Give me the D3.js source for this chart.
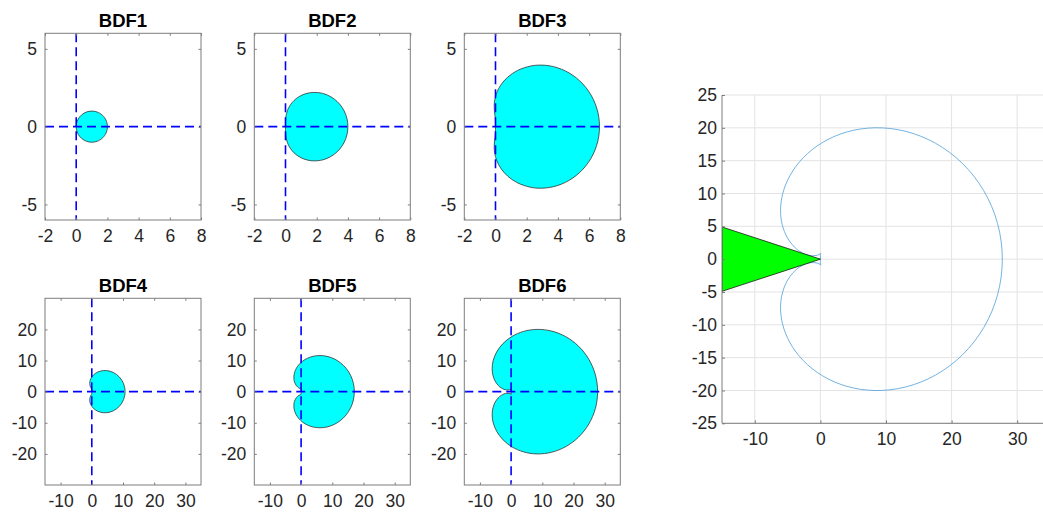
<!DOCTYPE html>
<html>
<head>
<meta charset="utf-8">
<script src="https://cdn.jsdelivr.net/npm/d3@7"></script>
<style>
  body { margin: 0; background: #fff; }
  svg { display: block; }
</style>
</head>
<body>
<svg id="chart" width="1043" height="515"></svg>
<script>
// ---------------- DATA ----------------
const panelTitles = ["BDF1", "BDF2", "BDF3", "BDF4", "BDF5", "BDF6"];

const topXTicks = [-2, 0, 2, 4, 6, 8];
const topYTicks = [-5, 0, 5];
const topXDomain = [-2, 8];
const topYDomain = [-6, 6];

const botXTicks = [-10, 0, 10, 20, 30];
const botYTicks = [-20, -10, 0, 10, 20];
const botXDomain = [-15, 35];
const botYDomain = [-30, 30];

const rightXTicks = [-10, 0, 10, 20, 30];
const rightYTicks = [-25, -20, -15, -10, -5, 0, 5, 10, 15, 20, 25];
const rightXDomain = [-15, 35];
const rightYDomain = [-25, 25];

// stability-region boundary points (upper half then lower half)
const bdf1Upper = [[2,0],[1.9962,0.0872],[1.9848,0.1737],[1.9659,0.2588],[1.9397,0.3420],[1.9063,0.4226],[1.8660,0.5],[1.8192,0.5736],[1.7660,0.6428],[1.7071,0.7071],[1.6428,0.7660],[1.5736,0.8192],[1.5,0.8660],[1.3420,0.9397],[1.1736,0.9848],[1,1],[0.8264,0.9848],[0.6580,0.9397],[0.5,0.8660],[0.3572,0.7660],[0.2340,0.6428],[0.1340,0.5],[0.0603,0.3420],[0.0152,0.1736],[0,0]];
const bdf1Lower = [[0.0152,-0.1736],[0.0603,-0.3420],[0.1340,-0.5],[0.2340,-0.6428],[0.3572,-0.7660],[0.5,-0.8660],[0.6580,-0.9397],[0.8264,-0.9848],[1,-1],[1.1736,-0.9848],[1.3420,-0.9397],[1.5,-0.8660],[1.5736,-0.8192],[1.6428,-0.7660],[1.7071,-0.7071],[1.7660,-0.6428],[1.8192,-0.5736],[1.8660,-0.5],[1.9063,-0.4226],[1.9397,-0.3420],[1.9659,-0.2588],[1.9848,-0.1737],[1.9962,-0.0872]];

const bdf2Upper = [[4,0],[3.9848,0.2611],[3.9395,0.5183],[3.8649,0.7676],[3.7624,1.0055],[3.6340,1.2283],[3.4821,1.4330],[3.3093,1.6170],[3.1189,1.7780],[2.9142,1.9142],[2.6988,2.0245],[2.4761,2.1082],[2.25,2.1651],[1.8010,2.2008],[1.3774,2.1406],[1,2],[0.6829,1.7986],[0.4329,1.5580],[0.25,1.2990],[0.1276,1.0397],[0.0547,0.7932],[0.0179,0.5670],[0.0036,0.3626],[0.0002,0.1763],[0,0]];
const bdf2Lower = [[0.0002,-0.1763],[0.0036,-0.3626],[0.0179,-0.5670],[0.0547,-0.7932],[0.1276,-1.0397],[0.25,-1.2990],[0.4329,-1.5580],[0.6829,-1.7986],[1,-2],[1.3774,-2.1406],[1.8010,-2.2008],[2.25,-2.1651],[2.4761,-2.1082],[2.6988,-2.0245],[2.9142,-1.9142],[3.1189,-1.7780],[3.3093,-1.6170],[3.4821,-1.4330],[3.6340,-1.2283],[3.7624,-1.0055],[3.8649,-0.7676],[3.9395,-0.5183],[3.9848,-0.2611]];

const bdf3Upper = [[6.6667,0],[6.6211,0.6082],[6.4860,1.2007],[6.2659,1.7621],[5.9682,2.2789],[5.6027,2.7389],[5.1814,3.1324],[4.7175,3.4522],[4.2253,3.6942],[3.7190,3.8570],[3.2126,3.9420],[2.7190,3.9533],[2.25,3.8971],[1.4216,3.6166],[0.7781,3.1788],[0.3333,2.6667],[0.0695,2.1527],[-0.0531,1.6882],[-0.0833,1.2990],[-0.0668,0.9876],[-0.0377,0.7398],[-0.0148,0.5343],[-0.0033,0.3506],[-0.0003,0.1746],[0,0]];
const bdf3Lower = [[-0.0003,-0.1746],[-0.0033,-0.3506],[-0.0148,-0.5343],[-0.0377,-0.7398],[-0.0668,-0.9876],[-0.0833,-1.2990],[-0.0531,-1.6882],[0.0695,-2.1527],[0.3333,-2.6667],[0.7781,-3.1788],[1.4216,-3.6166],[2.25,-3.8971],[2.7190,-3.9533],[3.2126,-3.9420],[3.7190,-3.8570],[4.2253,-3.6942],[4.7175,-3.4522],[5.1814,-3.1324],[5.6027,-2.7389],[5.9682,-2.2789],[6.2659,-1.7621],[6.4860,-1.2007],[6.6211,-0.6082]];

const bdf4Upper = [[10.6667,0],[10.5454,1.3002],[10.1879,2.5480],[9.6129,3.6946],[8.8504,4.6974],[7.9386,5.5227],[6.9224,6.1479],[5.8494,6.5620],[4.7669,6.7657],[3.7190,6.7712],[2.7439,6.5997],[1.8722,6.2801],[1.125,5.8457],[0.5141,5.3321],[0.0420,4.7742],[-0.5163,3.6499],[-0.6667,2.6667],[-0.5722,1.9192],[-0.3848,1.4099],[-0.2083,1.0825],[-0.0890,0.8619],[-0.0282,0.6859],[-0.0058,0.5188],[-0.0006,0.3482],[-0.0003,0.1746],[0,0]];
const bdf4Lower = [[-0.0003,-0.1746],[-0.0006,-0.3482],[-0.0058,-0.5188],[-0.0282,-0.6859],[-0.0890,-0.8619],[-0.2083,-1.0825],[-0.3848,-1.4099],[-0.5722,-1.9192],[-0.6667,-2.6667],[-0.5163,-3.6499],[0.0420,-4.7742],[0.5141,-5.3321],[1.125,-5.8457],[1.8722,-6.2801],[2.7439,-6.5997],[3.7190,-6.7712],[4.7669,-6.7657],[5.8494,-6.5620],[6.9224,-6.1479],[7.9386,-5.5227],[8.8504,-4.6974],[9.6129,-3.6946],[10.1879,-2.5480],[10.5454,-1.3002]];

const bdf5Upper = [[17.0667,0],[16.7640,2.6788],[15.8787,5.2017],[14.4769,7.4268],[12.6611,9.2388],[10.5598,10.5579],[8.3152,11.3460],[6.0696,11.6070],[3.9526,11.3837],[2.0704,10.7511],[0.4993,9.8054],[-0.7188,8.6543],[-1.575,7.4045],[-2.0905,6.1533],[-2.3095,4.9800],[-2.2915,3.9418],[-2.1028,3.0725],[-1.4667,1.8667],[-0.8124,1.2592],[-0.3501,1.0141],[-0.1083,0.9093],[-0.0183,0.8124],[0.0013,0.6807],[0.0014,0.5207],[0.0002,0.3489],[-0.0003,0.1746],[0,0]];
const bdf5Lower = [[-0.0003,-0.1746],[0.0002,-0.3489],[0.0014,-0.5207],[0.0013,-0.6807],[-0.0183,-0.8124],[-0.1083,-0.9093],[-0.3501,-1.0141],[-0.8124,-1.2592],[-1.4667,-1.8667],[-2.1028,-3.0725],[-2.2915,-3.9418],[-2.3095,-4.9800],[-2.0905,-6.1533],[-1.575,-7.4045],[-0.7188,-8.6543],[0.4993,-9.8054],[2.0704,-10.7511],[3.9526,-11.3837],[6.0696,-11.6070],[8.3152,-11.3460],[10.5598,-10.5579],[12.6611,-9.2388],[14.4769,-7.4268],[15.8787,-5.2017],[16.7640,-2.6788]];

const bdf6Upper = [[27.7333,0],[27.0085,5.4238],[24.9074,10.4144],[21.6404,14.5903],[17.5265,17.6659],[12.9504,19.4799],[8.3152,20.0094],[3.9921,19.3604],[0.2805,17.7439],[-2.6199,15.4415],[-4.6200,12.7610],[-5.7369,9.9989],[-6.075,7.4045],[-5.7985,5.1597],[-5.1005,3.3686],[-4.1722,2.0612],[-3.1805,1.2057],[-2.2519,0.7284],[-1.4667,0.5333],[-0.4362,0.6076],[-0.0212,0.8242],[0.0583,0.9093],[0.0343,0.8428],[0.0098,0.6955],[0.0014,0.5239],[0,0.3491],[-0.0003,0.1746],[0,0]];
const bdf6Lower = [[-0.0003,-0.1746],[0,-0.3491],[0.0014,-0.5239],[0.0098,-0.6955],[0.0343,-0.8428],[0.0583,-0.9093],[-0.0212,-0.8242],[-0.4362,-0.6076],[-1.4667,-0.5333],[-2.2519,-0.7284],[-3.1805,-1.2057],[-4.1722,-2.0612],[-5.1005,-3.3686],[-5.7985,-5.1597],[-6.075,-7.4045],[-5.7369,-9.9989],[-4.6200,-12.7610],[-2.6199,-15.4415],[0.2805,-17.7439],[3.9921,-19.3604],[8.3152,-20.0094],[12.9504,-19.4799],[17.5265,-17.6659],[21.6404,-14.5903],[24.9074,-10.4144],[27.0085,-5.4238]];

// A(alpha) sector shown in the right plot
const sectorPoints = [[-15, 4.9], [0, 0], [-15, -4.9]];

// ---------------- LAYOUT ----------------
const FONT = '"Liberation Sans", Arial, Helvetica, sans-serif';
const AXIS_COLOR = "#7d7d7d";
const TEXT_COLOR = "#262626";
const TICK_FONT = 17.5;
const svg = d3.select("#chart");

const colX = [45, 254.3, 464.3];
const rowY = [33.3, 298.3];
const pw = 156, ph = 186.7;

const curves = [
  bdf1Upper.concat(bdf1Lower),
  bdf2Upper.concat(bdf2Lower),
  bdf3Upper.concat(bdf3Lower),
  bdf4Upper.concat(bdf4Lower),
  bdf5Upper.concat(bdf5Lower),
  bdf6Upper.concat(bdf6Lower)
];

function styleAxis(sel, showText) {
  sel.select(".domain").remove();
  sel.selectAll(".tick line").attr("stroke", AXIS_COLOR).attr("stroke-width", 1);
  sel.selectAll(".tick text")
    .attr("font-family", FONT)
    .attr("font-size", TICK_FONT)
    .attr("fill", TEXT_COLOR);
  if (!showText) sel.selectAll(".tick text").remove();
}

const fmt = d => String(d);

function drawPanel(i) {
  const left = colX[i % 3];
  const top = rowY[Math.floor(i / 3)];
  const isTop = i < 3;
  const xd = isTop ? topXDomain : botXDomain;
  const yd = isTop ? topYDomain : botYDomain;
  const xt = isTop ? topXTicks : botXTicks;
  const yt = isTop ? topYTicks : botYTicks;

  const x = d3.scaleLinear().domain(xd).range([left, left + pw]);
  const y = d3.scaleLinear().domain(yd).range([top + ph, top]);

  const cid = "clip" + i;
  svg.append("clipPath").attr("id", cid)
    .append("rect").attr("x", left).attr("y", top).attr("width", pw).attr("height", ph);
  const g = svg.append("g").attr("clip-path", `url(#${cid})`);

  const line = d3.line()
    .x(d => x(d[0])).y(d => y(d[1]))
    .curve(d3.curveCatmullRomClosed.alpha(0.5));

  g.append("path")
    .attr("d", line(curves[i]))
    .attr("fill", "#00ffff")
    .attr("stroke", "#333")
    .attr("stroke-width", 0.8);

  // dashed axes lines
  g.append("line")
    .attr("x1", x(0)).attr("x2", x(0))
    .attr("y1", top).attr("y2", top + ph)
    .attr("stroke", "#0000ff").attr("stroke-width", 1.6)
    .attr("stroke-dasharray", "9,5");
  g.append("line")
    .attr("x1", left).attr("x2", left + pw)
    .attr("y1", y(0)).attr("y2", y(0))
    .attr("stroke", "#0000ff").attr("stroke-width", 1.6)
    .attr("stroke-dasharray", "9,5");

  // axes (ticks inside on all four sides)
  svg.append("g").attr("transform", `translate(0,${top + ph})`)
    .call(d3.axisBottom(x).tickValues(xt).tickFormat(fmt).tickSizeInner(-2.5).tickSizeOuter(0).tickPadding(10))
    .call(s => styleAxis(s, true));
  svg.append("g").attr("transform", `translate(0,${top})`)
    .call(d3.axisTop(x).tickValues(xt).tickSizeInner(-2.5).tickSizeOuter(0))
    .call(s => styleAxis(s, false));
  svg.append("g").attr("transform", `translate(${left},0)`)
    .call(d3.axisLeft(y).tickValues(yt).tickFormat(fmt).tickSizeInner(-2.5).tickSizeOuter(0).tickPadding(8))
    .call(s => styleAxis(s, true));
  svg.append("g").attr("transform", `translate(${left + pw},0)`)
    .call(d3.axisRight(y).tickValues(yt).tickSizeInner(-2.5).tickSizeOuter(0))
    .call(s => styleAxis(s, false));

  svg.append("rect")
    .attr("x", left).attr("y", top).attr("width", pw).attr("height", ph)
    .attr("fill", "none").attr("stroke", AXIS_COLOR).attr("stroke-width", 1);

  svg.append("text")
    .attr("x", left + pw / 2).attr("y", top - 6.5)
    .attr("text-anchor", "middle")
    .attr("font-family", FONT).attr("font-size", 18.5).attr("font-weight", "bold")
    .attr("fill", "#000")
    .text(panelTitles[i]);
}

for (let i = 0; i < 6; i++) drawPanel(i);

// ---------------- RIGHT PLOT ----------------
(function () {
  const left = 722, top = 95, bottom = 423.3;
  const right = 722 + 50 * 6.56;
  const x = d3.scaleLinear().domain(rightXDomain).range([left, right]);
  const y = d3.scaleLinear().domain(rightYDomain).range([bottom, top]);

  svg.append("clipPath").attr("id", "clipR")
    .append("rect").attr("x", left).attr("y", top).attr("width", right - left).attr("height", bottom - top);

  // grid
  const grid = svg.append("g");
  rightXTicks.forEach(t => grid.append("line")
    .attr("x1", x(t)).attr("x2", x(t)).attr("y1", top).attr("y2", bottom)
    .attr("stroke", "#e3e3e3").attr("stroke-width", 1));
  rightYTicks.forEach(t => grid.append("line")
    .attr("x1", left).attr("x2", right).attr("y1", y(t)).attr("y2", y(t))
    .attr("stroke", "#e3e3e3").attr("stroke-width", 1));

  const g = svg.append("g").attr("clip-path", "url(#clipR)");
  const line = d3.line()
    .x(d => x(d[0])).y(d => y(d[1]))
    .curve(d3.curveCatmullRomClosed.alpha(0.5));
  g.append("path")
    .attr("d", line(curves[5]))
    .attr("fill", "none")
    .attr("stroke", "#5aa5dc")
    .attr("stroke-width", 0.85);

  g.append("path")
    .attr("d", d3.line().x(d => x(d[0])).y(d => y(d[1])).curve(d3.curveLinearClosed)(sectorPoints))
    .attr("fill", "#00ff00")
    .attr("stroke", "#1a1a1a")
    .attr("stroke-width", 0.8);

  svg.append("g").attr("transform", `translate(0,${bottom})`)
    .call(d3.axisBottom(x).tickValues(rightXTicks).tickFormat(fmt).tickSizeInner(-3).tickSizeOuter(0).tickPadding(9))
    .call(s => styleAxis(s, true));
  svg.append("g").attr("transform", `translate(${left},0)`)
    .call(d3.axisLeft(y).tickValues(rightYTicks).tickFormat(fmt).tickSizeInner(-3).tickSizeOuter(0).tickPadding(5))
    .call(s => styleAxis(s, true));

  svg.append("line").attr("x1", left).attr("x2", left).attr("y1", top).attr("y2", bottom)
    .attr("stroke", AXIS_COLOR).attr("stroke-width", 1);
  svg.append("line").attr("x1", left).attr("x2", right).attr("y1", bottom).attr("y2", bottom)
    .attr("stroke", AXIS_COLOR).attr("stroke-width", 1);
})();
</script>
</body>
</html>
